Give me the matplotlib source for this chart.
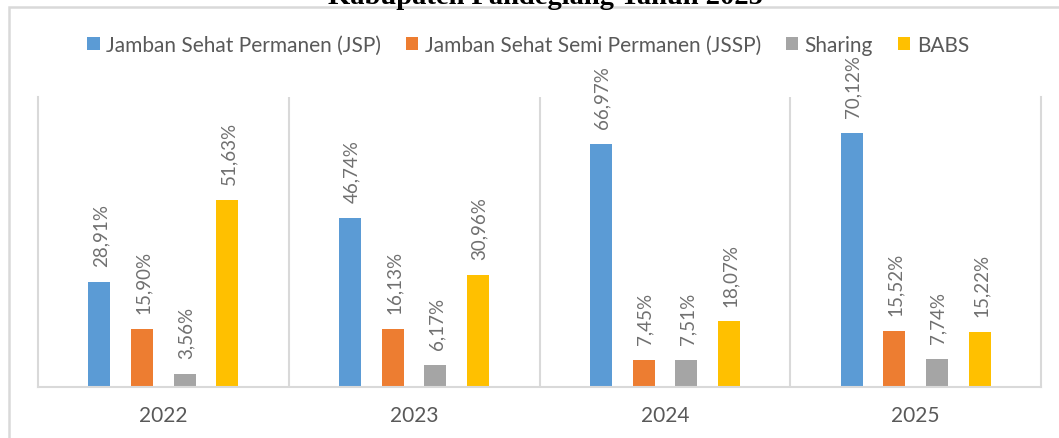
import numpy as np
import matplotlib
matplotlib.use("Agg")
import matplotlib.pyplot as plt
from matplotlib.patches import Rectangle

plt.rcParams['font.family'] = ['Lato', 'DejaVu Sans']

years = ['2022', '2023', '2024', '2025']
series_names = ['Jamban Sehat Permanen (JSP)', 'Jamban Sehat Semi Permanen (JSSP)',
                'Sharing', 'BABS']
jsp = [28.91, 46.74, 66.97, 70.12]
jssp = [15.90, 16.13, 7.45, 15.52]
sharing = [3.56, 6.17, 7.51, 7.74]
babs = [51.63, 30.96, 18.07, 15.22]
title = 'Kabupaten Pandeglang Tahun 2025'

colors = ['#5B9BD5', '#ED7D31', '#A5A5A5', '#FFC000']
grid_col = '#D9D9D9'
text_col = '#595959'

W, H = 1059, 439
fig = plt.figure(figsize=(W / 100, H / 100), dpi=100)

# outer frame (only left and top edges are visible in the crop)
fig.patches.append(Rectangle((9 / W, -0.1), 1.2, 1 - 8 / H + 0.1, transform=fig.transFigure,
                             fill=False, edgecolor=grid_col, linewidth=1.8))

# title is cut off at the top edge, as in the original
fig.text(545 / W, 1 - 4 / H, title, ha='center', va='baseline', fontsize=20.5,
         fontweight='bold', family='Liberation Serif', color='black')

ax = fig.add_axes([38 / W, 51 / H, (1041 - 38) / W, (388 - 98) / H])

x = np.arange(len(years))
width = 0.088
offsets = [-0.255, -0.085, 0.085, 0.255]
handles = []
for vals, name, col, off in zip([jsp, jssp, sharing, babs], series_names, colors, offsets):
    b = ax.bar(x + off, vals, width, color=col, label=name)
    handles.append(b)
    for xi, v in zip(x, vals):
        ax.annotate(f"{v:.2f}%".replace('.', ','), (xi + off, v), xytext=(1, 11.5),
                    textcoords='offset points', rotation=90, ha='center', va='bottom',
                    fontsize=13.5, color='#707070')

for b in [0.5, 1.5, 2.5]:
    ax.axvline(b, color=grid_col, linewidth=1.5)

ax.set_xlim(-0.5, 3.5)
ax.set_ylim(0, 80)
ax.set_xticks(x)
ax.set_xticklabels(years, fontsize=15, color=text_col)
ax.tick_params(axis='x', length=0, pad=13)
ax.set_yticks([])
for s in ['left', 'right', 'bottom']:
    ax.spines[s].set_color(grid_col)
    ax.spines[s].set_linewidth(1.5)
ax.spines['top'].set_visible(False)

fig.legend(handles=handles, labels=series_names, loc='center', bbox_to_anchor=(528 / W, 1 - 46 / H),
           ncol=4, frameon=False, fontsize=15, labelcolor=text_col,
           handlelength=0.6, handleheight=0.6, handletextpad=0.3, columnspacing=1.2)

fig.savefig('out.png', dpi=100)
